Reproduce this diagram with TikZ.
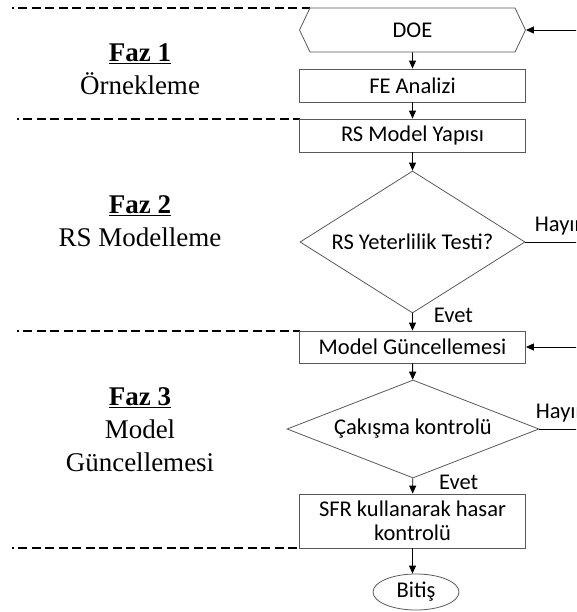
\documentclass[tikz,border=0pt]{standalone}
\usepackage{fontspec}
\setmainfont{Liberation Serif}
\newfontfamily\boxfont{Carlito}
\usetikzlibrary{shapes, arrows.meta, positioning, calc}

\begin{document}
\begin{tikzpicture}[
  x=1pt, y=-1pt,
  pbox/.style={draw=black!65, line width=0.8pt, minimum width=226pt, minimum height=33pt, inner sep=2pt, align=center, font=\boxfont\fontsize{22.5}{24}\selectfont},
  hexbox/.style={pbox, signal, signal to=east and west, signal pointer angle=129, minimum height=44pt},
  dbox/.style={pbox, diamond, inner sep=0pt},
  ebox/.style={pbox, ellipse, minimum width=86pt, minimum height=36pt},
  lbl/.style={inner sep=1pt, font=\boxfont\fontsize{22.5}{24}\selectfont},
  faz/.style={align=center, font=\fontsize{27}{33}\selectfont},
  sep/.style={line width=1.4pt, dash pattern=on 9pt off 4.5pt, dash phase=7.5pt},
  arr/.style={-{Triangle[length=8pt, width=7pt]}, line width=0.9pt}
]
  \useasboundingbox (0,0) rectangle (576,612);
  \clip (0,0) rectangle (576,612);

  % phases on the left
  \node[faz] (faz1) at (140,69) {\underline{\textbf{Faz 1}}\\Örnekleme};
  \node[faz] (faz2) at (140,221) {\underline{\textbf{Faz 2}}\\RS Modelleme};
  \node[faz] (faz3) at (140,430) {\underline{\textbf{Faz 3}}\\Model\\Güncellemesi};

  \draw[sep] (12,8) -- (310,8);
  \draw[sep] (17,119) -- (300,119);
  \draw[sep] (17,331) -- (300,331);
  \draw[sep] (12,548) -- (300,548);

  % flow
  \node[hexbox] (doe) at (412.5,30) {DOE};
  \node[pbox] (fe) at (412.5,85.5) {FE Analizi};
  \node[pbox] (rsm) at (412.5,135.5) {RS Model Yapısı};
  \node[dbox, aspect=1.58, minimum width=225pt, minimum height=142pt] (rstest) at (412.5,242) {RS Yeterlilik Testi?};
  \node[pbox, minimum height=32pt] (mg) at (412.5,347) {Model Güncellemesi};
  \node[dbox, aspect=2.6, minimum width=252pt, minimum height=98pt] (cak) at (413,429) {Çakışma kontrolü};
  \node[pbox, minimum height=54pt] (sfr) at (412.5,521) {SFR kullanarak hasar\\kontrolü};
  \node[ebox] (bitis) at (416,592) {Bitiş};

  \draw[arr] (doe) -- (fe);
  \draw[arr] (fe) -- (rsm);
  \draw[arr] (rsm) -- (rstest);
  \draw[arr] (rstest) -- node[lbl, pos=0.1, right=20pt] {Evet} (mg);
  \draw[arr] (mg) -- (cak);
  \draw[arr] (cak) -- node[lbl, pos=0.25, right=25pt] {Evet} (sfr);
  \draw[arr] (sfr.south) -- (sfr.south |- bitis.north);

  % loops back (cut at the right edge)
  \draw[arr] (rstest.east) node[lbl, anchor=south west, xshift=8pt, yshift=5pt] {Hayır} -- ++(70,0) |- (doe.east);
  \draw[arr] (cak.east) node[lbl, anchor=south west, xshift=-5pt, yshift=5pt] {Hayır} -- ++(60,0) |- (mg.east);
\end{tikzpicture}
\end{document}
